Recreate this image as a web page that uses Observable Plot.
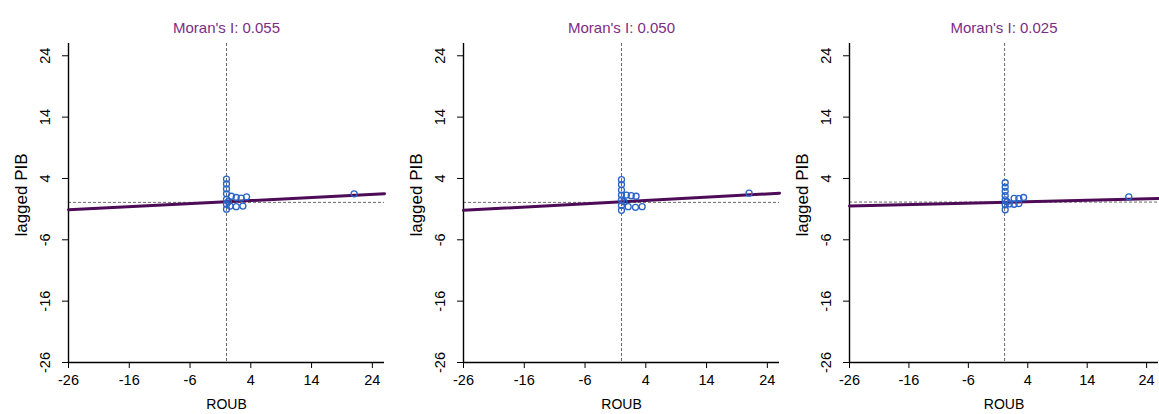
<!DOCTYPE html>
<html>
<head>
<meta charset="utf-8">
<script src="https://cdn.jsdelivr.net/npm/d3@7"></script>
<script src="https://cdn.jsdelivr.net/npm/@observablehq/plot@0.6"></script>
<style>
  body { margin: 0; background: white; }
  #wrap { position: relative; width: 1159px; height: 414px; overflow: hidden; background: white; }
  .panel { position: absolute; top: 0; height: 414px; }
  .panel svg { max-width: none !important; }
</style>
</head>
<body>
<div id="wrap"></div>
<script>
// ---- data ----
const xTicks = [-26, -16, -6, 4, 14, 24];
const yTicks = [-26, -16, -6, 4, 14, 24];
const titles = ["Moran's I: 0.055", "Moran's I: 0.050", "Moran's I: 0.025"];
const xLabel = "ROUB";
const yLabel = "lagged PIB";

const roub1 = [0, 0, 0, 0, 0, 0, 0, 0.8, 1.6, 2.4, 3.3, 0.6, 1.6, 2.7, 0.3, 21];
const lag1  = [3.9, 3.1, 2.3, 1.5, 0.6, -0.2, -1.0, 1.1, 0.9, 0.8, 1.0, -0.5, -0.6, -0.5, 0.2, 1.5];

const roub2 = [0, 0, 0, 0, 0, 0, 0, 0.8, 1.6, 2.4, 1.1, 2.3, 3.4, 0.4, 21];
const lag2  = [3.8, 3.0, 2.1, 1.3, 0.5, -0.4, -1.2, 1.3, 1.2, 1.1, -0.6, -0.7, -0.6, 0.2, 1.6];

const roub3 = [0.2, 0.2, 0.2, 0.2, 0.2, 0.2, 0.2, 1.7, 2.5, 3.3, 0.9, 1.7, 2.5, 0.5, 21];
const lag3  = [3.3, 2.6, 1.9, 1.2, 0.5, -0.3, -1.1, 0.75, 0.7, 0.9, -0.15, -0.2, -0.1, 0.2, 1.0];

const lineX = [-26, 26];
const lineY1 = [-1.1, 1.5];
const lineY2 = [-1.2, 1.6];
const lineY3 = [-0.5, 0.75];

const meanX = [0, 0, 0.1];
const meanY = [0.1, 0.1, 0.15];

// ---- drawing ----
const titleColor = "#7d2c86";
const lineColor = "#4e0b57";
const dotColor = "#2a63c6";
const dashColor = "#6a6a6a";

const layouts = [
  {left: 0,   width: 388, ml: 68, mr: 4},
  {left: 390, width: 392, ml: 73, mr: 3},
  {left: 775, width: 384, ml: 74, mr: 1}
];
const series = [
  {roub: roub1, lag: lag1, lineY: lineY1},
  {roub: roub2, lag: lag2, lineY: lineY2},
  {roub: roub3, lag: lag3, lineY: lineY3}
];

const wrap = document.getElementById("wrap");

series.forEach((s, i) => {
  const L = layouts[i];
  const pts = s.roub.map((x, j) => ({x, y: s.lag[j]}));
  const line = lineX.map((x, j) => ({x, y: s.lineY[j]}));
  const chart = Plot.plot({
    width: L.width,
    height: 414,
    marginTop: 43,
    marginBottom: 52,
    marginLeft: L.ml,
    marginRight: L.mr,
    style: {background: "transparent", fontFamily: "'Liberation Sans', Arial, sans-serif", fontSize: "14px", color: "black", overflow: "visible", maxWidth: "none"},
    x: {domain: [-26, 26], ticks: xTicks, tickSize: 6, tickFormat: () => "", label: null},
    y: {domain: [-26, 26], ticks: yTicks, tickSize: 6, tickFormat: () => "", label: null},
    marks: [
      Plot.ruleX([meanX[i]], {stroke: dashColor, strokeWidth: 1, strokeDasharray: "3,2"}),
      Plot.ruleY([meanY[i]], {stroke: dashColor, strokeWidth: 1, strokeDasharray: "3,2"}),
      Plot.ruleX([-26], {stroke: "black", strokeWidth: 1.4}),
      Plot.ruleY([-26], {stroke: "black", strokeWidth: 1.4}),
      Plot.line(line, {x: "x", y: "y", stroke: lineColor, strokeWidth: 3}),
      Plot.dot(pts, {x: "x", y: "y", r: 3, stroke: dotColor, fill: "none", strokeWidth: 1.3}),
      Plot.text(xTicks, {x: d => d, text: d => String(d), frameAnchor: "bottom", dy: 22, fontSize: 14.5, textAnchor: "middle"}),
      Plot.text(yTicks, {y: d => d, text: d => String(d), frameAnchor: "left", dx: -23, rotate: -90, fontSize: 14.5, textAnchor: "middle", lineAnchor: "middle"}),
      Plot.text([titles[i]], {text: d => d, frameAnchor: "top", dy: -21, fill: titleColor, fontSize: 15, textAnchor: "middle"}),
      Plot.text([xLabel], {text: d => d, frameAnchor: "bottom", dy: 46, fontSize: 14, textAnchor: "middle"}),
      Plot.text([yLabel], {text: d => d, frameAnchor: "left", dx: -47, dy: -8, rotate: -90, fontSize: 17, textAnchor: "middle", lineAnchor: "middle"})
    ]
  });
  chart.style.maxWidth = "none";
  const div = document.createElement("div");
  div.className = "panel";
  div.style.left = L.left + "px";
  div.style.width = L.width + "px";
  div.appendChild(chart);
  wrap.appendChild(div);
});
</script>
</body>
</html>
